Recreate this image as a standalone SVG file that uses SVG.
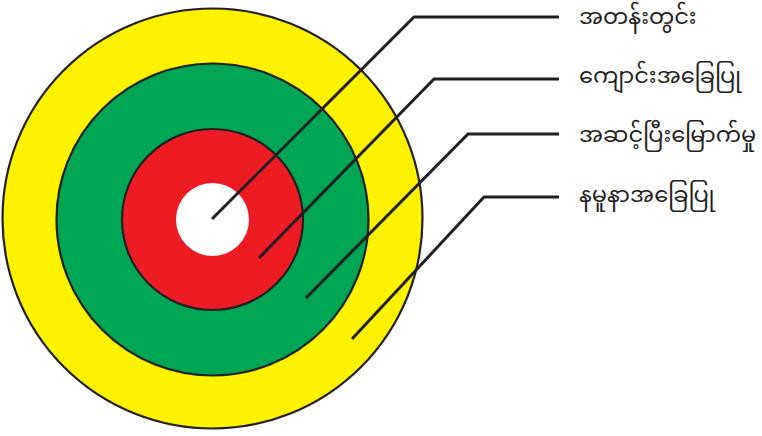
<svg xmlns="http://www.w3.org/2000/svg" width="762" height="436" viewBox="0 0 762 436">
<style>
.ring{stroke:#231F20;stroke-width:2.2}
.lead{fill:none;stroke:#231F20;stroke-width:3;stroke-linejoin:miter}
.lbl{font-family:"Noto Sans Myanmar","Padauk","Myanmar Text","Noto Sans",sans-serif;font-size:22.5px;fill:#231F20}
</style>
<rect width="762" height="436" fill="#FFFFFF"/>
<g id="ring-outer"><circle class="ring" cx="212.5" cy="218.5" r="210" fill="#FFF200"/></g>
<g id="ring-green"><circle class="ring" cx="212.5" cy="219.5" r="156" fill="#00A651"/></g>
<g id="ring-red"><circle class="ring" cx="212.5" cy="219.5" r="90.5" fill="#ED1C24"/></g>
<g id="ring-white"><circle cx="212.5" cy="219.5" r="36.5" fill="#FFFFFF"/></g>
<g id="connectors">
<polyline class="lead" points="212,219 414,17 559,17"/>
<polyline class="lead" points="259,258 434,79 559,79"/>
<polyline class="lead" points="306,298 468,134 559,134"/>
<polyline class="lead" points="352,339 484,197 559,197"/>
</g>
<g id="label-1"><text class="lbl" x="579" y="24">အတန်းတွင်း</text></g>
<g id="label-2"><text class="lbl" x="579" y="83">ကျောင်းအခြေပြု</text></g>
<g id="label-3"><text class="lbl" x="579" y="142">အဆင့်ပြီးမြောက်မှု</text></g>
<g id="label-4"><text class="lbl" x="579" y="202">နမူနာအခြေပြု</text></g>
</svg>
